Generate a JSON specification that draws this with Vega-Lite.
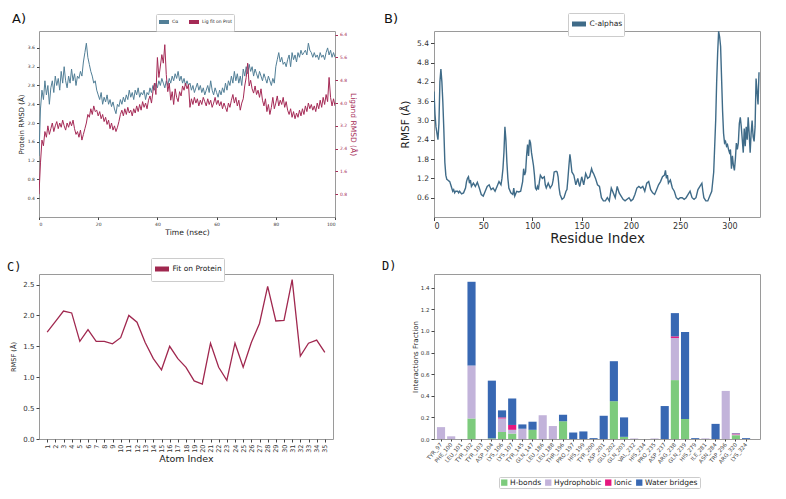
{
  "$schema": "https://vega.github.io/schema/vega-lite/v6.json",
  "background": "white",
  "padding": {"left": 6, "top": 12, "right": 5, "bottom": 5},
  "columns": 2,
  "spacing": {"row": 57, "column": 99},
  "bounds": "flush",
  "resolve": {"scale": {"color": "independent"}},
  "datasets": {
    "rmsd": [
      {"t":0,"p":1.3,"l":0.8},{"t":0.5,"p":2.3,"l":1.9},{"t":1,"p":2.7,"l":2.7},{"t":1.5,"p":2.5,"l":2.5},{"t":2,"p":2.9,"l":3.0},{"t":2.5,"p":2.6,"l":2.8},{"t":3,"p":2.8,"l":3.2},{"t":3.5,"p":2.4,"l":2.9},{"t":4,"p":2.75,"l":3.1},{"t":4.5,"p":2.9,"l":3.3},
      {"t":5,"p":2.65,"l":3.0},{"t":5.5,"p":3.0,"l":3.2},{"t":6,"p":2.8,"l":3.35},{"t":6.5,"p":2.95,"l":3.1},{"t":7,"p":2.7,"l":3.3},{"t":7.5,"p":3.1,"l":3.15},{"t":8,"p":2.85,"l":3.4},{"t":8.5,"p":3.2,"l":3.2},{"t":9,"p":2.9,"l":3.05},{"t":9.5,"p":2.75,"l":3.3},
      {"t":10,"p":3.0,"l":3.15},{"t":10.5,"p":2.85,"l":3.35},{"t":11,"p":3.15,"l":3.2},{"t":11.5,"p":2.9,"l":3.4},{"t":12,"p":3.05,"l":3.1},{"t":12.5,"p":2.8,"l":2.9},{"t":13,"p":3.0,"l":3.0},{"t":13.5,"p":2.95,"l":2.8},{"t":14,"p":3.1,"l":3.05},{"t":14.5,"p":3.0,"l":2.7},
      {"t":15,"p":3.3,"l":2.9},{"t":15.5,"p":3.5,"l":3.1},{"t":16,"p":3.7,"l":3.3},{"t":16.5,"p":3.4,"l":3.6},{"t":17,"p":3.25,"l":3.5},{"t":17.5,"p":3.1,"l":3.8},{"t":18,"p":3.0,"l":3.6},{"t":18.5,"p":2.85,"l":3.9},{"t":19,"p":2.9,"l":3.7},{"t":19.5,"p":2.7,"l":3.75},
      {"t":20,"p":2.6,"l":3.55},{"t":20.5,"p":2.5,"l":3.7},{"t":21,"p":2.65,"l":3.45},{"t":21.5,"p":2.4,"l":3.6},{"t":22,"p":2.55,"l":3.35},{"t":22.5,"p":2.45,"l":3.5},{"t":23,"p":2.6,"l":3.25},{"t":23.5,"p":2.4,"l":3.4},{"t":24,"p":2.5,"l":3.1},{"t":24.5,"p":2.35,"l":3.3},
      {"t":25,"p":2.45,"l":3.05},{"t":25.5,"p":2.3,"l":3.2},{"t":26,"p":2.2,"l":3.0},{"t":26.5,"p":2.4,"l":3.15},{"t":27,"p":2.35,"l":3.35},{"t":27.5,"p":2.5,"l":3.6},{"t":28,"p":2.4,"l":3.75},{"t":28.5,"p":2.55,"l":3.55},{"t":29,"p":2.45,"l":3.8},{"t":29.5,"p":2.6,"l":3.6},
      {"t":30,"p":2.5,"l":3.85},{"t":30.5,"p":2.7,"l":3.65},{"t":31,"p":2.55,"l":3.75},{"t":31.5,"p":2.65,"l":3.55},{"t":32,"p":2.5,"l":3.8},{"t":32.5,"p":2.7,"l":3.65},{"t":33,"p":2.6,"l":3.9},{"t":33.5,"p":2.75,"l":3.7},{"t":34,"p":2.55,"l":3.95},{"t":34.5,"p":2.65,"l":3.75},
      {"t":35,"p":2.6,"l":4.05},{"t":35.5,"p":2.7,"l":3.85},{"t":36,"p":2.5,"l":4.0},{"t":36.5,"p":2.65,"l":3.8},{"t":37,"p":2.6,"l":4.1},{"t":37.5,"p":2.75,"l":4.25},{"t":38,"p":2.65,"l":4.0},{"t":38.5,"p":2.8,"l":4.4},{"t":39,"p":2.7,"l":4.7},{"t":39.5,"p":2.85,"l":4.3},
      {"t":40,"p":2.75,"l":5.6},{"t":40.5,"p":2.9,"l":4.9},{"t":41,"p":2.8,"l":5.3},{"t":41.5,"p":2.95,"l":5.7},{"t":42,"p":2.85,"l":5.4},{"t":42.5,"p":2.75,"l":6.05},{"t":43,"p":2.9,"l":5.0},{"t":43.5,"p":2.8,"l":4.4},{"t":44,"p":2.95,"l":4.7},{"t":44.5,"p":2.85,"l":4.1},
      {"t":45,"p":3.0,"l":4.4},{"t":45.5,"p":2.9,"l":3.95},{"t":46,"p":3.05,"l":4.5},{"t":46.5,"p":2.95,"l":4.2},{"t":47,"p":3.1,"l":4.05},{"t":47.5,"p":2.9,"l":4.4},{"t":48,"p":3.0,"l":4.25},{"t":48.5,"p":2.85,"l":4.6},{"t":49,"p":2.95,"l":4.45},{"t":49.5,"p":2.8,"l":4.7},
      {"t":50,"p":2.9,"l":4.5},{"t":50.5,"p":2.8,"l":4.65},{"t":51,"p":2.85,"l":3.85},{"t":51.5,"p":2.7,"l":4.15},{"t":52,"p":2.8,"l":3.95},{"t":52.5,"p":2.65,"l":4.2},{"t":53,"p":2.75,"l":4.0},{"t":53.5,"p":2.85,"l":4.15},{"t":54,"p":2.7,"l":3.9},{"t":54.5,"p":2.8,"l":4.1},
      {"t":55,"p":2.65,"l":3.95},{"t":55.5,"p":2.75,"l":4.2},{"t":56,"p":2.6,"l":4.05},{"t":56.5,"p":2.7,"l":3.9},{"t":57,"p":2.8,"l":4.15},{"t":57.5,"p":2.65,"l":3.95},{"t":58,"p":2.9,"l":4.1},{"t":58.5,"p":2.7,"l":3.85},{"t":59,"p":2.6,"l":4.0},{"t":59.5,"p":2.75,"l":4.2},
      {"t":60,"p":2.65,"l":3.95},{"t":60.5,"p":2.55,"l":4.1},{"t":61,"p":2.7,"l":3.9},{"t":61.5,"p":2.6,"l":4.05},{"t":62,"p":2.75,"l":3.8},{"t":62.5,"p":2.65,"l":4.0},{"t":63,"p":2.85,"l":3.85},{"t":63.5,"p":2.7,"l":3.7},{"t":64,"p":2.9,"l":4.0},{"t":64.5,"p":2.8,"l":3.85},
      {"t":65,"p":3.0,"l":4.1},{"t":65.5,"p":2.85,"l":4.3},{"t":66,"p":3.1,"l":4.0},{"t":66.5,"p":2.9,"l":4.2},{"t":67,"p":3.05,"l":3.9},{"t":67.5,"p":2.85,"l":4.1},{"t":68,"p":3.0,"l":3.75},{"t":68.5,"p":2.8,"l":4.0},{"t":69,"p":3.15,"l":4.15},{"t":69.5,"p":3.0,"l":4.6},
      {"t":70,"p":3.2,"l":4.9},{"t":70.5,"p":3.05,"l":5.4},{"t":71,"p":3.25,"l":4.6},{"t":71.5,"p":3.1,"l":4.8},{"t":72,"p":3.2,"l":4.5},{"t":72.5,"p":3.0,"l":4.35},{"t":73,"p":3.15,"l":4.6},{"t":73.5,"p":3.05,"l":4.3},{"t":74,"p":2.95,"l":4.45},{"t":74.5,"p":3.1,"l":4.2},
      {"t":75,"p":3.0,"l":4.5},{"t":75.5,"p":2.9,"l":4.1},{"t":76,"p":3.05,"l":3.9},{"t":76.5,"p":2.95,"l":4.15},{"t":77,"p":2.85,"l":3.7},{"t":77.5,"p":3.0,"l":3.95},{"t":78,"p":2.9,"l":3.6},{"t":78.5,"p":2.8,"l":3.85},{"t":79,"p":2.95,"l":4.2},{"t":79.5,"p":2.85,"l":3.8},
      {"t":80,"p":3.2,"l":4.0},{"t":80.5,"p":3.35,"l":4.25},{"t":81,"p":3.5,"l":3.9},{"t":81.5,"p":3.3,"l":4.1},{"t":82,"p":3.4,"l":3.95},{"t":82.5,"p":3.25,"l":4.2},{"t":83,"p":3.3,"l":3.85},{"t":83.5,"p":3.2,"l":4.05},{"t":84,"p":3.35,"l":3.75},{"t":84.5,"p":3.45,"l":3.6},
      {"t":85,"p":3.2,"l":3.8},{"t":85.5,"p":3.5,"l":3.5},{"t":86,"p":3.35,"l":3.7},{"t":86.5,"p":3.45,"l":3.45},{"t":87,"p":3.3,"l":3.65},{"t":87.5,"p":3.5,"l":3.5},{"t":88,"p":3.4,"l":3.75},{"t":88.5,"p":3.55,"l":3.55},{"t":89,"p":3.45,"l":3.8},{"t":89.5,"p":3.5,"l":3.6},
      {"t":90,"p":3.55,"l":3.9},{"t":90.5,"p":3.45,"l":3.7},{"t":91,"p":3.7,"l":4.0},{"t":91.5,"p":3.55,"l":3.8},{"t":92,"p":3.5,"l":3.95},{"t":92.5,"p":3.4,"l":3.75},{"t":93,"p":3.5,"l":3.9},{"t":93.5,"p":3.4,"l":3.7},{"t":94,"p":3.45,"l":4.0},{"t":94.5,"p":3.35,"l":3.8},
      {"t":95,"p":3.5,"l":4.1},{"t":95.5,"p":3.4,"l":3.85},{"t":96,"p":3.45,"l":4.2},{"t":96.5,"p":3.35,"l":3.95},{"t":97,"p":3.5,"l":4.3},{"t":97.5,"p":3.6,"l":4.05},{"t":98,"p":3.45,"l":4.9},{"t":98.5,"p":3.55,"l":4.2},{"t":99,"p":3.4,"l":3.9},{"t":99.5,"p":3.5,"l":4.15},
      {"t":100,"p":3.4,"l":3.9}
    ],
    "rmsf": [
      {"r":0,"v":3.9},{"r":1,"v":3.2},{"r":2,"v":2.8},{"r":3,"v":2.6},{"r":4,"v":2.4},{"r":5,"v":2.9},{"r":6,"v":4.2},{"r":7,"v":4.6},{"r":8,"v":4.2},{"r":9,"v":3.55},
      {"r":10,"v":2.7},{"r":11,"v":1.7},{"r":12,"v":1.3},{"r":13,"v":1.17},{"r":14,"v":1.15},{"r":15,"v":1.12},{"r":16,"v":1.1},{"r":17,"v":1.0},{"r":18,"v":0.9},{"r":19,"v":0.8},
      {"r":20,"v":0.85},{"r":21,"v":0.75},{"r":22,"v":0.8},{"r":24,"v":0.8},{"r":25,"v":0.75},{"r":26,"v":0.8},{"r":28,"v":0.72},{"r":30,"v":0.75},{"r":32,"v":0.9},{"r":33,"v":1.1},
      {"r":34,"v":1.2},{"r":35,"v":1.25},{"r":36,"v":1.05},{"r":37,"v":1.15},{"r":38,"v":0.95},{"r":40,"v":1.05},{"r":42,"v":0.95},{"r":44,"v":1.08},{"r":46,"v":0.9},{"r":48,"v":0.7},
      {"r":50,"v":0.65},{"r":52,"v":0.8},{"r":54,"v":0.95},{"r":56,"v":1.0},{"r":58,"v":0.85},{"r":60,"v":0.9},{"r":62,"v":0.8},{"r":64,"v":0.95},{"r":66,"v":1.1},{"r":68,"v":1.0},
      {"r":69,"v":1.2},{"r":70,"v":1.5},{"r":71,"v":2.0},{"r":72,"v":2.8},{"r":73,"v":2.4},{"r":74,"v":1.7},{"r":75,"v":1.2},{"r":76,"v":0.9},{"r":78,"v":0.75},{"r":80,"v":0.7},
      {"r":81,"v":0.9},{"r":82,"v":0.65},{"r":84,"v":0.8},{"r":86,"v":0.78},{"r":88,"v":0.8},{"r":90,"v":1.1},{"r":91,"v":1.5},{"r":92,"v":1.3},{"r":93,"v":1.4},{"r":94,"v":1.9},
      {"r":95,"v":2.25},{"r":96,"v":1.9},{"r":97,"v":2.4},{"r":98,"v":2.3},{"r":99,"v":2.0},{"r":100,"v":1.8},{"r":101,"v":1.6},{"r":102,"v":1.3},{"r":103,"v":0.9},{"r":104,"v":0.85},
      {"r":105,"v":0.95},{"r":106,"v":0.85},{"r":107,"v":1.1},{"r":108,"v":1.3},{"r":110,"v":1.2},{"r":112,"v":1.25},{"r":113,"v":1.0},{"r":114,"v":0.9},{"r":116,"v":1.05},{"r":118,"v":0.9},
      {"r":120,"v":1.0},{"r":121,"v":1.15},{"r":122,"v":1.4},{"r":124,"v":1.42},{"r":125,"v":1.4},{"r":126,"v":1.25},{"r":127,"v":0.9},{"r":128,"v":0.7},{"r":130,"v":0.55},{"r":132,"v":0.6},
      {"r":134,"v":0.8},{"r":135,"v":0.85},{"r":136,"v":1.2},{"r":137,"v":1.6},{"r":138,"v":1.95},{"r":139,"v":1.7},{"r":140,"v":1.4},{"r":142,"v":1.3},{"r":144,"v":1.0},{"r":146,"v":1.2},
      {"r":147,"v":1.05},{"r":148,"v":0.95},{"r":150,"v":1.25},{"r":152,"v":1.0},{"r":154,"v":1.35},{"r":156,"v":1.2},{"r":158,"v":1.25},{"r":160,"v":1.5},{"r":161,"v":1.4},{"r":162,"v":1.35},
      {"r":164,"v":1.2},{"r":166,"v":1.0},{"r":168,"v":0.95},{"r":170,"v":0.6},{"r":172,"v":0.5},{"r":174,"v":0.5},{"r":176,"v":0.6},{"r":178,"v":0.5},{"r":180,"v":0.9},{"r":182,"v":0.75},
      {"r":184,"v":0.6},{"r":186,"v":0.95},{"r":188,"v":0.75},{"r":190,"v":0.65},{"r":192,"v":0.55},{"r":194,"v":0.5},{"r":196,"v":0.55},{"r":198,"v":0.6},{"r":200,"v":0.5},{"r":202,"v":0.55},
      {"r":204,"v":0.7},{"r":206,"v":0.9},{"r":208,"v":0.95},{"r":210,"v":0.9},{"r":212,"v":0.95},{"r":214,"v":0.8},{"r":216,"v":1.05},{"r":218,"v":1.1},{"r":220,"v":0.85},{"r":222,"v":0.75},
      {"r":224,"v":0.7},{"r":226,"v":0.85},{"r":228,"v":1.0},{"r":230,"v":1.1},{"r":232,"v":1.25},{"r":234,"v":1.3},{"r":235,"v":1.45},{"r":236,"v":1.2},{"r":237,"v":1.3},{"r":238,"v":1.05},
      {"r":240,"v":1.15},{"r":242,"v":0.9},{"r":244,"v":0.8},{"r":246,"v":0.6},{"r":248,"v":0.55},{"r":250,"v":0.6},{"r":252,"v":0.6},{"r":254,"v":0.55},{"r":256,"v":0.6},{"r":258,"v":0.7},
      {"r":260,"v":0.8},{"r":262,"v":0.6},{"r":264,"v":0.55},{"r":266,"v":0.6},{"r":268,"v":0.85},{"r":270,"v":0.95},{"r":272,"v":1.05},{"r":273,"v":0.8},{"r":274,"v":0.6},{"r":276,"v":0.5},
      {"r":278,"v":0.5},{"r":280,"v":0.65},{"r":282,"v":0.8},{"r":284,"v":1.4},{"r":286,"v":3.0},{"r":287,"v":4.2},{"r":288,"v":5.1},{"r":289,"v":5.77},{"r":290,"v":5.6},{"r":291,"v":5.3},
      {"r":292,"v":4.3},{"r":293,"v":3.3},{"r":294,"v":2.6},{"r":295,"v":2.3},{"r":296,"v":2.35},{"r":297,"v":2.2},{"r":298,"v":2.25},{"r":299,"v":2.1},{"r":300,"v":2.0},{"r":301,"v":2.1},
      {"r":302,"v":1.5},{"r":303,"v":1.9},{"r":304,"v":1.6},{"r":305,"v":1.45},{"r":306,"v":1.8},{"r":307,"v":2.3},{"r":308,"v":2.1},{"r":309,"v":2.3},{"r":310,"v":2.9},{"r":311,"v":3.1},
      {"r":312,"v":2.8},{"r":313,"v":2.4},{"r":314,"v":2.0},{"r":315,"v":2.75},{"r":316,"v":2.2},{"r":317,"v":2.8},{"r":318,"v":2.4},{"r":319,"v":3.1},{"r":320,"v":2.6},{"r":321,"v":2.0},
      {"r":322,"v":2.6},{"r":323,"v":3.0},{"r":324,"v":2.5},{"r":325,"v":2.35},{"r":326,"v":2.8},{"r":327,"v":4.3},{"r":328,"v":3.9},{"r":329,"v":3.5},{"r":330,"v":4.5}
    ],
    "lig": [
      {"a":1,"v":1.73},{"a":2,"v":1.9},{"a":3,"v":2.07},{"a":4,"v":2.04},{"a":5,"v":1.58},{"a":6,"v":1.77},{"a":7,"v":1.58},{"a":8,"v":1.58},{"a":9,"v":1.54},{"a":10,"v":1.64},
      {"a":11,"v":2.0},{"a":12,"v":1.89},{"a":13,"v":1.56},{"a":14,"v":1.3},{"a":15,"v":1.12},{"a":16,"v":1.5},{"a":17,"v":1.3},{"a":18,"v":1.16},{"a":19,"v":0.94},{"a":20,"v":0.89},
      {"a":21,"v":1.55},{"a":22,"v":1.16},{"a":23,"v":0.95},{"a":24,"v":1.55},{"a":25,"v":1.16},{"a":26,"v":1.56},{"a":27,"v":1.87},{"a":28,"v":2.47},{"a":29,"v":1.91},{"a":30,"v":1.92},
      {"a":31,"v":2.58},{"a":32,"v":1.34},{"a":33,"v":1.55},{"a":34,"v":1.6},{"a":35,"v":1.4}
    ],
    "inter": [
      {"res":"TYR_97","type":"Hydrophobic","f":0.11},
      {"res":"PHE_100","type":"Hydrophobic","f":0.025},
      {"res":"TYR_102","type":"H-bonds","f":0.19},
      {"res":"TYR_102","type":"Hydrophobic","f":0.49},
      {"res":"TYR_102","type":"Water bridges","f":0.775},
      {"res":"ASP_104","type":"H-bonds","f":0.006},
      {"res":"ASP_104","type":"Water bridges","f":0.534},
      {"res":"LYS_106","type":"H-bonds","f":0.065},
      {"res":"LYS_106","type":"Hydrophobic","f":0.125},
      {"res":"LYS_106","type":"Ionic","f":0.01},
      {"res":"LYS_106","type":"Water bridges","f":0.065},
      {"res":"LYS_107","type":"H-bonds","f":0.05},
      {"res":"LYS_107","type":"Hydrophobic","f":0.035},
      {"res":"LYS_107","type":"Ionic","f":0.045},
      {"res":"LYS_107","type":"Water bridges","f":0.245},
      {"res":"TYR_145","type":"Hydrophobic","f":0.095},
      {"res":"TYR_145","type":"Water bridges","f":0.04},
      {"res":"GLN_147","type":"H-bonds","f":0.085},
      {"res":"GLN_147","type":"Water bridges","f":0.075},
      {"res":"LEU_186","type":"Hydrophobic","f":0.22},
      {"res":"LEU_188","type":"Hydrophobic","f":0.12},
      {"res":"THR_196","type":"H-bonds","f":0.165},
      {"res":"THR_196","type":"Water bridges","f":0.06},
      {"res":"PRO_197","type":"Water bridges","f":0.06},
      {"res":"HIS_199","type":"Water bridges","f":0.07},
      {"res":"TYR_200","type":"Water bridges","f":0.008},
      {"res":"ASP_201","type":"Water bridges","f":0.215},
      {"res":"GLU_202","type":"H-bonds","f":0.35},
      {"res":"GLU_202","type":"Water bridges","f":0.37},
      {"res":"GLN_203","type":"H-bonds","f":0.02},
      {"res":"GLN_203","type":"Water bridges","f":0.18},
      {"res":"VAL_232","type":"Hydrophobic","f":0.005},
      {"res":"PRO_235","type":"Hydrophobic","f":0.005},
      {"res":"ASP_237","type":"Water bridges","f":0.305},
      {"res":"ARG_238","type":"H-bonds","f":0.545},
      {"res":"ARG_238","type":"Hydrophobic","f":0.39},
      {"res":"ARG_238","type":"Ionic","f":0.015},
      {"res":"ARG_238","type":"Water bridges","f":0.215},
      {"res":"GLN_239","type":"H-bonds","f":0.185},
      {"res":"GLN_239","type":"Water bridges","f":0.805},
      {"res":"HIS_279","type":"Water bridges","f":0.008},
      {"res":"ILE_281","type":"Hydrophobic","f":0.006},
      {"res":"ASN_284","type":"Water bridges","f":0.14},
      {"res":"TRP_296","type":"Hydrophobic","f":0.445},
      {"res":"ARG_320","type":"H-bonds","f":0.035},
      {"res":"ARG_320","type":"Hydrophobic","f":0.008},
      {"res":"ARG_320","type":"Ionic","f":0.007},
      {"res":"ARG_320","type":"Water bridges","f":0.004},
      {"res":"LYS_324","type":"Water bridges","f":0.008}
    ]
  },
  "concat": [
    {
      "width": 296,
      "height": 186,
      "title": {"text": "A)", "dx": -27, "dy": 9, "offset": -3, "fontSize": 13},
      "data": {"name": "rmsd"},
      "layer": [
        {
          "mark": {"type": "line", "strokeWidth": 1, "clip": true},
          "encoding": {
            "x": {"field": "t", "type": "quantitative", "scale": {"domain": [0, 100], "nice": false},
                  "axis": {"title": "Time (nsec)", "values": [0, 20, 40, 60, 80, 100], "labelFontSize": 4.5, "titleFontSize": 7.6, "tickSize": 2.5, "titlePadding": 2}},
            "y": {"field": "p", "type": "quantitative", "scale": {"domain": [0, 3.96], "nice": false},
                  "axis": {"title": "Protein RMSD (Å)", "values": [0.4, 0.8, 1.2, 1.6, 2.0, 2.4, 2.8, 3.2, 3.6], "format": ".1f", "labelFontSize": 4.5, "titleFontSize": 7, "tickSize": 2.5, "titlePadding": 3}},
            "color": {"datum": "Cα", "type": "nominal",
                      "scale": {"domain": ["Cα", "Lig fit on Prot"], "range": ["#527f97", "#a52a56"]},
                      "legend": {"title": null, "orient": "none", "legendX": 117, "legendY": -17, "direction": "horizontal", "labelFontSize": 4.5, "symbolType": "stroke", "symbolStrokeWidth": 4, "symbolSize": 100, "padding": 1, "columnPadding": 2, "labelOffset": 1, "fillColor": "white", "strokeColor": "#cccccc"}}
          }
        },
        {
          "mark": {"type": "line", "strokeWidth": 1, "clip": true},
          "encoding": {
            "x": {"field": "t", "type": "quantitative"},
            "y": {"field": "l", "type": "quantitative", "scale": {"domain": [0, 6.53], "nice": false},
                  "axis": {"orient": "right", "title": "Ligand RMSD (Å)", "values": [0.8, 1.6, 2.4, 3.2, 4.0, 4.8, 5.6, 6.4], "format": ".1f", "labelFontSize": 4.5, "labelColor": "#a52a56", "tickColor": "#a52a56", "titleColor": "#a52a56", "titleFontSize": 7.5, "tickSize": 2.5, "titlePadding": 2}},
            "color": {"datum": "Lig fit on Prot", "type": "nominal"}
          }
        }
      ],
      "resolve": {"scale": {"y": "independent"}}
    },
    {
      "width": 326,
      "height": 186,
      "title": {"text": "B)", "dx": -50, "dy": 10, "offset": -3, "fontSize": 13},
      "data": {"name": "rmsf"},
      "mark": {"type": "line", "strokeWidth": 1.4, "clip": true},
      "encoding": {
        "x": {"field": "r", "type": "quantitative", "scale": {"domain": [0, 331], "nice": false},
              "axis": {"title": "Residue Index", "values": [0, 50, 100, 150, 200, 250, 300], "labelFontSize": 8, "titleFontSize": 13.5, "tickSize": 3.5, "titlePadding": 1}},
        "y": {"field": "v", "type": "quantitative", "scale": {"domain": [0, 5.78], "nice": false},
              "axis": {"title": "RMSF (Å)", "values": [0.6, 1.2, 1.8, 2.4, 3.0, 3.6, 4.2, 4.8, 5.4], "format": ".1f", "labelFontSize": 7.5, "titleFontSize": 10.5, "tickSize": 3.5, "titlePadding": 6}},
        "color": {"datum": "C-alphas", "type": "nominal", "scale": {"range": ["#3f6b88"]},
                  "legend": {"title": null, "orient": "none", "legendX": 134, "legendY": -18, "labelFontSize": 7.5, "symbolType": "stroke", "symbolStrokeWidth": 5, "symbolSize": 196, "padding": 1.5, "labelOffset": 1, "fillColor": "white", "strokeColor": "#cccccc"}}
      }
    },
    {
      "width": 294,
      "height": 165,
      "title": {"text": "C)", "dx": -32, "dy": 12, "offset": -4.5, "fontSize": 12, "font": "DejaVu Sans Mono"},
      "data": {"name": "lig"},
      "mark": {"type": "line", "strokeWidth": 1.3},
      "encoding": {
        "x": {"field": "a", "type": "quantitative", "scale": {"domain": [0, 36], "nice": false},
              "axis": {"title": "Atom Index", "values": [1,2,3,4,5,6,7,8,9,10,11,12,13,14,15,16,17,18,19,20,21,22,23,24,25,26,27,28,29,30,31,32,33,34,35], "labelAngle": 270, "labelFontSize": 6.5, "titleFontSize": 9.5, "tickSize": 3, "titlePadding": 1}},
        "y": {"field": "v", "type": "quantitative", "scale": {"domain": [0, 2.67], "nice": false},
              "axis": {"title": "RMSF (Å)", "values": [0, 0.5, 1.0, 1.5, 2.0, 2.5], "format": ".1f", "labelFontSize": 7, "titleFontSize": 6.6, "tickSize": 3, "titlePadding": 6}},
        "color": {"datum": "Fit on Protein", "type": "nominal", "scale": {"range": ["#a0284f"]},
                  "legend": {"title": null, "orient": "none", "legendX": 112, "legendY": -16, "labelFontSize": 7.5, "symbolType": "stroke", "symbolStrokeWidth": 5, "symbolSize": 196, "padding": 1.5, "labelOffset": 1, "fillColor": "white", "strokeColor": "#cccccc"}}
      }
    },
    {
      "width": 326,
      "height": 165,
      "title": {"text": "D)", "dx": -52, "dy": -5, "offset": -4, "fontSize": 12, "font": "DejaVu Sans Mono"},
      "data": {"name": "inter"},
      "mark": {"type": "bar"},
      "encoding": {
        "x": {"field": "res", "type": "nominal",
              "scale": {"domain": ["TYR_97","PHE_100","LEU_101","TYR_102","TYR_103","ASP_104","LYS_106","LYS_107","TYR_145","GLN_147","LEU_186","LEU_188","THR_196","PRO_197","HIS_199","TYR_200","ASP_201","GLU_202","GLN_203","VAL_232","HIS_234","PRO_235","ASP_237","ARG_238","GLN_239","HIS_279","ILE_281","ASN_284","TRP_296","ARG_320","LYS_324"], "paddingInner": 0.2, "paddingOuter": 0.63, "align": 0.23},
              "axis": {"title": null, "labelAngle": -50, "labelFontSize": 5.5, "labelColor": "#444", "tickSize": 2}},
        "y": {"field": "f", "type": "quantitative", "stack": "zero", "scale": {"domain": [0, 1.527], "nice": false},
              "axis": {"title": "Interactions Fraction", "values": [0, 0.2, 0.4, 0.6, 0.8, 1.0, 1.2, 1.4], "format": ".1f", "labelFontSize": 5.5, "titleFontSize": 7, "tickSize": 3, "titlePadding": 2}},
        "color": {"field": "type", "type": "nominal",
                  "scale": {"domain": ["H-bonds", "Hydrophobic", "Ionic", "Water bridges"], "range": ["#7dcb7d", "#c2b3da", "#e5177f", "#3868b3"]},
                  "legend": {"title": null, "orient": "none", "legendX": 65, "legendY": 203, "direction": "horizontal", "labelFontSize": 7.5, "symbolType": "square", "symbolSize": 40, "symbolStrokeWidth": 0, "padding": 1.5, "columnPadding": 3, "labelOffset": 2, "fillColor": "white", "strokeColor": "#cccccc"}},
        "order": {"field": "type", "sort": "ascending"}
      }
    }
  ],
  "config": {
    "font": "DejaVu Sans",
    "view": {"stroke": "#9a9a9a", "strokeWidth": 1},
    "axis": {"grid": false, "domain": false, "tickColor": "#444444", "labelColor": "#333333", "titleColor": "#222222", "titleFontWeight": "normal", "labelPadding": 2},
    "legend": {"labelColor": "#222222", "cornerRadius": 1},
    "title": {"anchor": "start", "frame": "group", "fontWeight": "normal", "color": "#111111", "baseline": "alphabetic", "offset": 0}
  }
}
